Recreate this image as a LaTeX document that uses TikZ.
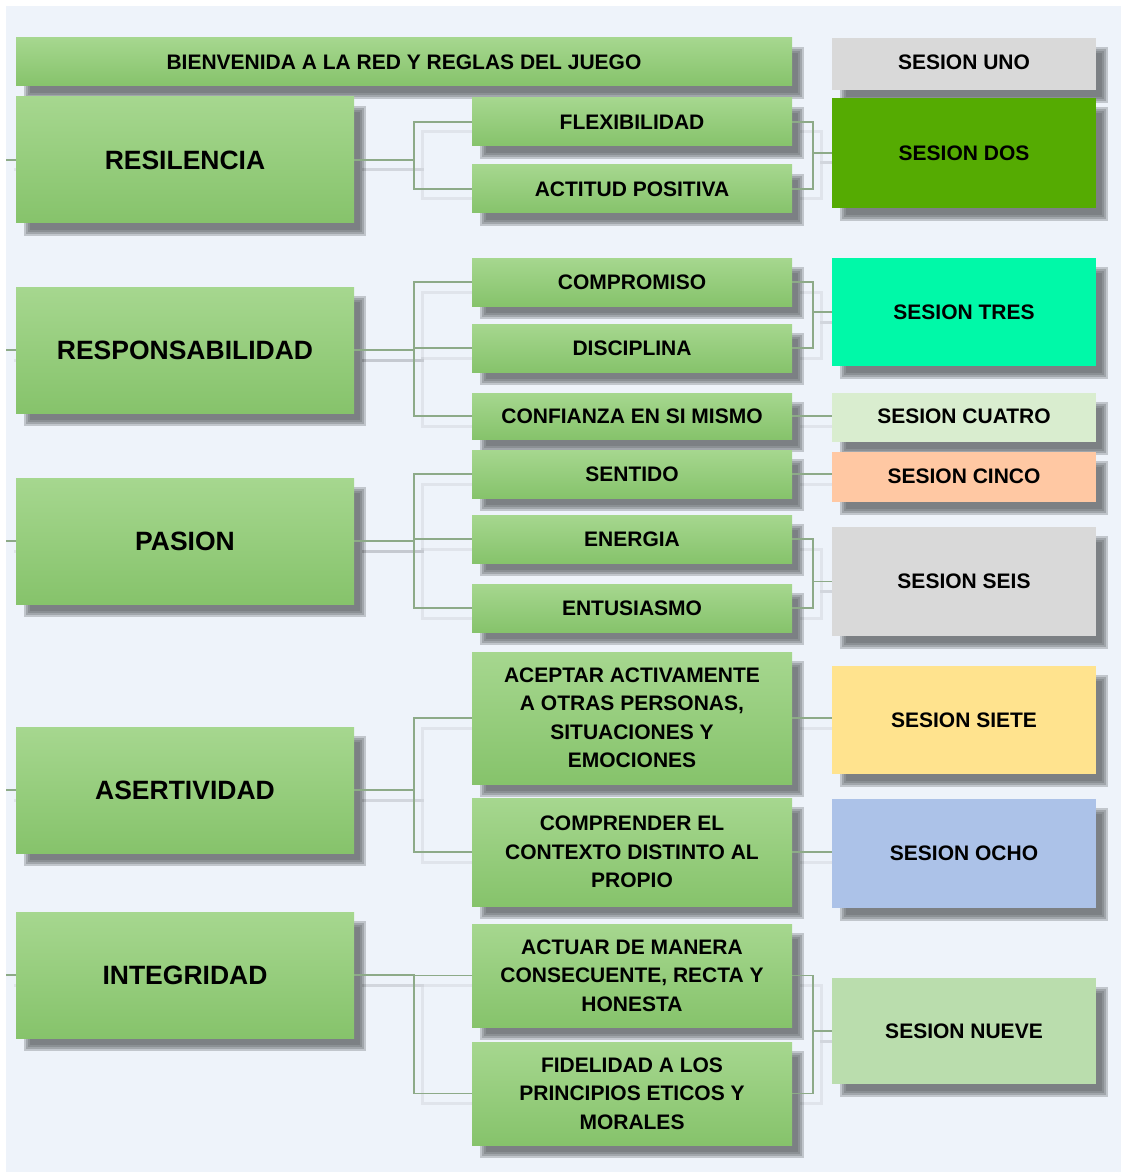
\documentclass[tikz,border=0pt]{standalone}
\usepackage{fontspec}
\setmainfont{Liberation Sans}
\usetikzlibrary{calc}
\pgfdeclarelayer{back}
\pgfdeclarelayer{shad}
\pgfdeclarelayer{conns}
\pgfsetlayers{back,shad,conns,main}
\definecolor{bgc}{HTML}{EEF3FA}
\definecolor{gtop}{HTML}{A6D78F}
\definecolor{gbot}{HTML}{86C36B}
\definecolor{connc}{HTML}{8DAA88}
\definecolor{shadc}{HTML}{5A5E62}
\definecolor{cuno}{HTML}{D9D9D9}
\definecolor{cdos}{HTML}{55AB02}
\definecolor{ctres}{HTML}{00F9A8}
\definecolor{ccuatro}{HTML}{D9EDCF}
\definecolor{ccinco}{HTML}{FFC8A3}
\definecolor{cseis}{HTML}{D9D9D9}
\definecolor{csiete}{HTML}{FFE38E}
\definecolor{cocho}{HTML}{ACC2E8}
\definecolor{cnueve}{HTML}{BADDAD}
\tikzset{
  box/.style={rectangle, inner sep=0pt, align=center, text=black},
  greenbox/.style={box, top color=gtop, bottom color=gbot},
  mainbox/.style={greenbox, minimum width=338pt, minimum height=126pt,
    font=\fontsize{26.5}{30}\selectfont\bfseries},
  childbox/.style={greenbox, minimum width=320pt, font=\fontsize{21}{28.5}\selectfont\bfseries},
  sesbox/.style={box, minimum width=264pt, font=\fontsize{21}{28.5}\selectfont\bfseries},
  shadowlayer/.style={fill=shadc, opacity=0.3},
  conn/.style={draw=connc, line width=1.8pt,
    preaction={draw=black, draw opacity=0.06, line width=3pt, transform canvas={xshift=8pt,yshift=-10pt}}}
}
\begin{document}
\begin{tikzpicture}[x=1pt,y=-1pt]
\useasboundingbox (0,0) rectangle (1120,1174);
\begin{pgfonlayer}{back}
\fill[white] (-5,-5) rectangle (1125,1179);
\fill[bgc] (6,6) rectangle (1125,1172);
\end{pgfonlayer}

% top row
\node[greenbox, minimum width=776pt, minimum height=48pt, font=\fontsize{21}{28.5}\selectfont\bfseries] (bien) at (404,62) {BIENVENIDA A LA RED Y REGLAS DEL JUEGO};
\node[sesbox, fill=cuno, minimum height=52pt] (uno) at (964,64) {\raisebox{3pt}{SESION UNO}};

% main boxes
\node[mainbox] (res) at (185,160) {RESILENCIA};
\node[mainbox] (resp) at (185,350) {RESPONSABILIDAD};
\node[mainbox] (pas) at (185,541) {PASION};
\node[mainbox] (ase) at (185,790) {ASERTIVIDAD};
\node[mainbox] (integ) at (185,975) {INTEGRIDAD};

% children
\node[childbox, minimum height=48pt] (flex) at (632,122) {FLEXIBILIDAD};
\node[childbox, minimum height=48pt] (acti) at (632,189) {ACTITUD POSITIVA};
\node[childbox, minimum height=48pt] (comp) at (632,282) {COMPROMISO};
\node[childbox, minimum height=48pt] (disc) at (632,348) {DISCIPLINA};
\node[childbox, minimum height=46pt] (conf) at (632,416) {CONFIANZA EN SI MISMO};
\node[childbox, minimum height=48pt] (sent) at (632,474) {SENTIDO};
\node[childbox, minimum height=48pt] (ener) at (632,539) {ENERGIA};
\node[childbox, minimum height=48pt] (entu) at (632,608) {ENTUSIASMO};
\node[childbox, minimum height=132pt] (acep) at (632,718) {ACEPTAR ACTIVAMENTE\\A OTRAS PERSONAS,\\SITUACIONES Y\\EMOCIONES};
\node[childbox, minimum height=108pt] (compr) at (632,852) {COMPRENDER EL\\CONTEXTO DISTINTO AL\\PROPIO};
\node[childbox, minimum height=103pt] (actu) at (632,975.5) {ACTUAR DE MANERA\\CONSECUENTE, RECTA Y\\HONESTA};
\node[childbox, minimum height=103pt] (fide) at (632,1093.5) {FIDELIDAD A LOS\\PRINCIPIOS ETICOS Y\\MORALES};

% sessions
\node[sesbox, fill=cdos, minimum height=110pt] (dos) at (964,153) {SESION DOS};
\node[sesbox, fill=ctres, minimum height=108pt] (tres) at (964,312) {SESION TRES};
\node[sesbox, fill=ccuatro, minimum height=49pt] (cuatro) at (964,417.5) {\raisebox{2pt}{SESION CUATRO}};
\node[sesbox, fill=ccinco, minimum height=50pt] (cinco) at (964,477) {\raisebox{2pt}{SESION CINCO}};
\node[sesbox, fill=cseis, minimum height=109pt] (seis) at (964,581.5) {SESION SEIS};
\node[sesbox, fill=csiete, minimum height=108pt] (siete) at (964,720) {SESION SIETE};
\node[sesbox, fill=cocho, minimum height=109pt] (ocho) at (964,853.5) {SESION OCHO};
\node[sesbox, fill=cnueve, minimum height=106pt] (nueve) at (964,1031) {SESION NUEVE};

% soft drop shadows
\begin{pgfonlayer}{shad}
\foreach \n in {bien,uno,res,resp,pas,ase,integ,flex,acti,comp,disc,conf,sent,ener,entu,acep,compr,actu,fide,dos,tres,cuatro,cinco,seis,siete,ocho,nueve}{
  \foreach \d in {-1.5,0.5,2.5,4.5}
    \fill[shadowlayer] ($(\n.north west)+(10+\d,11+\d)$) rectangle ($(\n.south east)+(10-\d,11-\d)$);
}
\end{pgfonlayer}

% left stubs
\coordinate (s1) at (6,160);
\coordinate (s2) at (6,350);
\coordinate (s3) at (6,541);
\coordinate (s4) at (6,790);
\coordinate (s5) at (6,975);

\begin{pgfonlayer}{conns}
\draw[conn] (s1) -- (res.west);
\draw[conn] (s2) -- (resp.west);
\draw[conn] (s3) -- (pas.west);
\draw[conn] (s4) -- (ase.west);
\draw[conn] (s5) -- (integ.west);

\draw[conn] (res.east) -- +(60,0) |- (flex.west);
\draw[conn] (res.east) -- +(60,0) |- (acti.west);
\draw[conn] (resp.east) -- +(60,0) |- (comp.west);
\draw[conn] (resp.east) -- +(60,0) |- (disc.west);
\draw[conn] (resp.east) -- +(60,0) |- (conf.west);
\draw[conn] (pas.east) -- +(60,0) |- (sent.west);
\draw[conn] (pas.east) -- +(60,0) |- (ener.west);
\draw[conn] (pas.east) -- +(60,0) |- (entu.west);
\draw[conn] (ase.east) -- +(60,0) |- (acep.west);
\draw[conn] (ase.east) -- +(60,0) |- (compr.west);
\draw[conn] (integ.east) -- +(60,0) |- (actu.west);
\draw[conn] (integ.east) -- +(60,0) |- (fide.west);

\draw[conn] (flex.east) -- +(21,0) |- (dos.west);
\draw[conn] (acti.east) -- +(21,0) |- (dos.west);
\draw[conn] (comp.east) -- +(21,0) |- (tres.west);
\draw[conn] (disc.east) -- +(21,0) |- (tres.west);
\draw[conn] (conf.east) -- (conf.east -| cuatro.west);
\draw[conn] (sent.east) -- (sent.east -| cinco.west);
\draw[conn] (ener.east) -- +(21,0) |- (seis.west);
\draw[conn] (entu.east) -- +(21,0) |- (seis.west);
\draw[conn] (acep.east) -- (acep.east -| siete.west);
\draw[conn] (compr.east) -- (compr.east -| ocho.west);
\draw[conn] (actu.east) -- +(21,0) |- (nueve.west);
\draw[conn] (fide.east) -- +(21,0) |- (nueve.west);
\end{pgfonlayer}
\end{tikzpicture}
\end{document}
